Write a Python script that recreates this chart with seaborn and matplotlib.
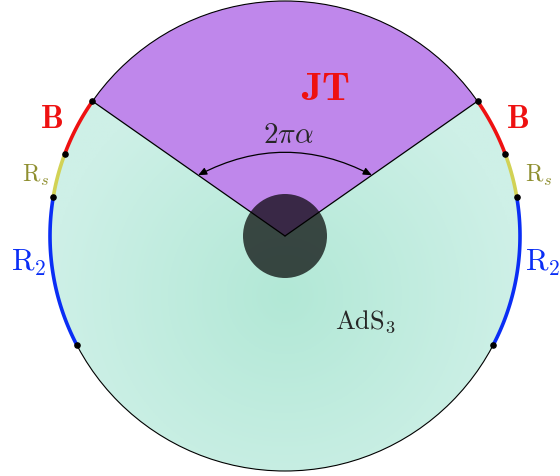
import numpy as np
import pandas as pd
import seaborn as sns
import matplotlib.pyplot as plt
from matplotlib.patches import Circle, Wedge, FancyArrowPatch

sns.set_theme(style="white")
plt.rcParams['mathtext.fontset'] = 'cm'
plt.rcParams['font.family'] = ['DejaVu Serif']

# geometry of the diagram (pixel-like units, y up)
center = (285, 240)
radius = 235
hole_radius = 42
wedge_deg = [35, 145]          # JT wedge, opening angle 2*pi*alpha
arrow_radius = 106

# boundary segments (degrees), left side and mirrored right side
seg_names = ["B", "R_s", "R_2"]
seg_colors = ["#EE1111", "#D2D255", "#0A2EF5"]
seg_left = [(145, 159.5), (159.5, 170.5), (170.5, 207.5)]
seg_right = [(35, 20.5), (20.5, 9.5), (9.5, -27.5)]
dot_deg = [145, 159.5, 170.5, 207.5, 35, 20.5, 9.5, -27.5]

labels = [r"$\mathbf{B}$", r"$\mathrm{R}_s$", r"$\mathrm{R}_2$"]
label_colors = ["#EE1111", "#8F8F30", "#0A2EF5"]
label_sizes = [23, 17, 22]
label_left_xy = [(51, 358), (36, 302), (29, 214)]
label_right_xy = [(518, 357), (539, 302), (543, 214)]

fig = plt.figure(figsize=(5.6, 4.77), dpi=100)
ax = fig.add_axes([0, 0, 1, 1])
ax.set_xlim(0, 560)
ax.set_ylim(0, 477)
ax.set_aspect('equal')
ax.axis('off')

# radial gradient AdS3 disk
xs = np.linspace(center[0] - radius, center[0] + radius, 300)
ys = np.linspace(center[1] - radius, center[1] + radius, 300)
X, Y = np.meshgrid(xs, ys)
rr = np.clip(np.hypot(X - center[0], Y - center[1] + 60) / radius, 0, 1)
c_in = np.array([178, 232, 214]) / 255
c_out = np.array([206, 240, 231]) / 255
img = c_in[None, None, :] * (1 - rr[..., None]) + c_out[None, None, :] * rr[..., None]
disk = Circle(center, radius, facecolor='none', edgecolor='none')
ax.add_patch(disk)
im = ax.imshow(img, extent=(xs[0], xs[-1], ys[0], ys[-1]), origin='lower', zorder=1)
im.set_clip_path(disk)

# JT wedge
ax.add_patch(Wedge(center, radius, wedge_deg[0], wedge_deg[1],
                   facecolor='#BF87EB', edgecolor='none', zorder=2))

# outer circle outline
ax.add_patch(Circle(center, radius, facecolor='none', edgecolor='black', lw=0.8, zorder=3))

# dark hole
ax.add_patch(Circle(center, hole_radius, facecolor='black', alpha=0.7, edgecolor='none', zorder=4))

# wedge edges
for a in wedge_deg:
    t = np.deg2rad(a)
    ax.plot([center[0], center[0] + radius * np.cos(t)],
            [center[1], center[1] + radius * np.sin(t)], color='black', lw=0.9, zorder=5)

# coloured boundary arcs
rows = []
for name, color, l, r in zip(seg_names, seg_colors, seg_left, seg_right):
    for side, (a0, a1) in (("L", l), ("R", r)):
        t = np.deg2rad(np.linspace(a0, a1, 60))
        rows.append(pd.DataFrame({"x": center[0] + radius * np.cos(t),
                                  "y": center[1] + radius * np.sin(t),
                                  "seg": name + side, "color": color}))
arcs = pd.concat(rows, ignore_index=True)
for seg, d in arcs.groupby("seg", sort=False):
    sns.lineplot(data=d, x="x", y="y", sort=False, estimator=None,
                 color=d["color"].iloc[0], lw=2.6, ax=ax, zorder=6)

# boundary dots
t = np.deg2rad(dot_deg)
ax.scatter(center[0] + radius * np.cos(t), center[1] + radius * np.sin(t),
           s=14, color='black', zorder=7)

# 2 pi alpha arrow
ta, tb = np.deg2rad(wedge_deg[1]), np.deg2rad(wedge_deg[0])
p0 = (center[0] + arrow_radius * np.cos(ta), center[1] + arrow_radius * np.sin(ta))
p1 = (center[0] + arrow_radius * np.cos(tb), center[1] + arrow_radius * np.sin(tb))
ax.add_patch(FancyArrowPatch(p0, p1, connectionstyle="arc3,rad=-0.26",
                             arrowstyle="<|-|>,head_length=5,head_width=2.2",
                             color='black', lw=0.9, shrinkA=0, shrinkB=0, zorder=6))

# texts
ax.text(288, 342, r"$2\pi\alpha$", fontsize=21, ha='center', va='center', zorder=8)
ax.text(326, 387, r"$\mathbf{JT}$", fontsize=29, color='#EE1111', ha='center', va='center', zorder=8)
ax.text(365, 155, r"$\mathrm{AdS}_3$", fontsize=19, ha='center', va='center', zorder=8)
for lab, col, fs, pl, pr in zip(labels, label_colors, label_sizes, label_left_xy, label_right_xy):
    ax.text(*pl, lab, fontsize=fs, color=col, ha='center', va='center')
    ax.text(*pr, lab, fontsize=fs, color=col, ha='center', va='center')

plt.savefig("out.png", dpi=100)
plt.close()
